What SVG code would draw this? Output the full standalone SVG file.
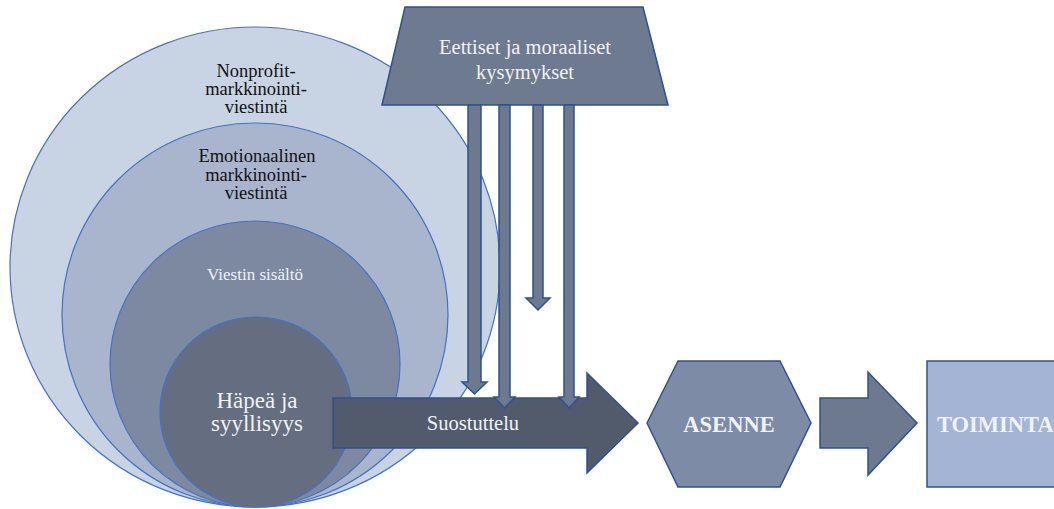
<svg xmlns="http://www.w3.org/2000/svg" width="1054" height="509" viewBox="0 0 1054 509">
  <style>
    .ring { stroke: #4472c4; stroke-width: 1.2; }
    .shape { stroke: #2f528f; stroke-width: 1.5; }
    .down { fill: #6d798f; stroke: #2f528f; stroke-width: 1.5; }
    .dark { fill: #111111; text-anchor: middle; }
    .light { fill: #f0f2f5; text-anchor: middle; }
  </style>
  <rect width="1054" height="509" fill="#ffffff"/>

  <!-- nested rings, all touching at the bottom -->
  <g id="nonprofit">
    <ellipse class="ring" cx="255" cy="267" rx="245" ry="240" fill="#c8d3e4"/>
    <text class="dark" font-family="'Liberation Serif', serif" font-size="18.5" x="256" y="77">Nonprofit-</text>
    <text class="dark" font-family="'Liberation Serif', serif" font-size="18.5" x="256" y="95">markkinointi-</text>
    <text class="dark" font-family="'Liberation Serif', serif" font-size="18.5" x="256" y="113">viestintä</text>
  </g>
  <g id="emotional">
    <ellipse class="ring" cx="255" cy="315" rx="193" ry="192" fill="#a8b5cd"/>
    <text class="dark" font-family="'Liberation Serif', serif" font-size="18.5" x="257" y="162">Emotionaalinen</text>
    <text class="dark" font-family="'Liberation Serif', serif" font-size="18.5" x="256" y="181">markkinointi-</text>
    <text class="dark" font-family="'Liberation Serif', serif" font-size="18.5" x="256" y="199">viestintä</text>
  </g>
  <g id="content">
    <ellipse class="ring" cx="255" cy="364" rx="145" ry="143" fill="#7c89a0"/>
    <text class="light" font-family="'Liberation Serif', serif" font-size="17" x="255" y="280">Viestin sisältö</text>
  </g>
  <g id="shame">
    <ellipse class="ring" cx="256" cy="412" rx="96" ry="95" fill="#646e80"/>
    <text class="light" font-family="'Liberation Serif', serif" font-size="23" x="257" y="408">Häpeä ja</text>
    <text class="light" font-family="'Liberation Serif', serif" font-size="23" x="257" y="431">syyllisyys</text>
  </g>

  <!-- ethics trapezoid -->
  <g id="ethics">
    <polygon class="shape" points="405,7 643,7 668,105 382,105" fill="#6e7a90"/>
    <text class="light" font-family="'Liberation Serif', serif" font-size="20.5" x="525" y="54">Eettiset ja moraaliset</text>
    <text class="light" font-family="'Liberation Serif', serif" font-size="20.5" x="525" y="79">kysymykset</text>
  </g>

  <!-- persuasion arrow -->
  <g id="persuasion">
    <polygon class="shape" points="333,398 587,398 587,373 638,423 587,473 587,448 333,448" fill="#525b6c"/>
    <text class="light" font-family="'Liberation Serif', serif" font-size="20.5" x="473" y="430">Suostuttelu</text>
  </g>

  <g id="attitude">
    <polygon class="shape" points="647,423 678,361 780,361 811,423 780,487 678,487" fill="#7e8ba6"/>
    <text class="light" font-family="'Liberation Serif', serif" font-size="22.5" font-weight="bold" x="729" y="432">ASENNE</text>
  </g>

  <g id="action">
    <rect class="shape" x="927" y="361" width="140" height="126" fill="#a3b4d4"/>
    <text fill="#f0f2f5" font-family="'Liberation Serif', serif" font-size="22.5" font-weight="bold" x="937" y="432">TOIMINTA</text>
  </g>

  <!-- connectors -->
  <g id="connectors">
    <polygon class="down" points="468,105 481,105 481,382 487,382 474.5,394 462,382 468,382"/>
    <polygon class="down" points="499,105 510,105 510,397 515,397 504.5,408 494,397 499,397"/>
    <polygon class="down" points="533,105 543,105 543,298 550,298 538,310 526,298 533,298"/>
    <polygon class="down" points="564,105 574,105 574,397 579,397 569,408 559,397 564,397"/>
    <polygon class="shape" points="820,398 868,398 868,372 917,423 868,475 868,448 820,448" fill="#6d798f"/>
  </g>
</svg>
